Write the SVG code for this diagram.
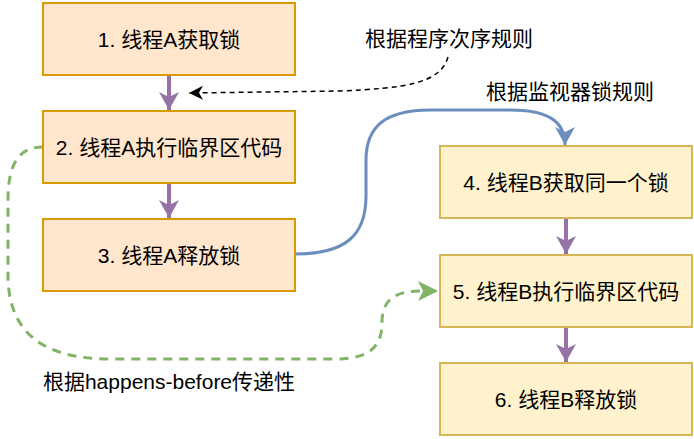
<svg xmlns="http://www.w3.org/2000/svg" width="694" height="439" viewBox="0 0 694 439">
<style>
  text { font-family: "Liberation Sans", "Noto Sans CJK SC", sans-serif; font-size: 21px; fill: #000; text-anchor: middle; dominant-baseline: central; }
  .a rect { fill: #ffe6cc; stroke: #d79b00; stroke-width: 2; }
  .b rect { fill: #fff2cc; stroke: #d6b656; stroke-width: 2; }
  .purple { stroke: #9673a6; stroke-width: 4; fill: none; marker-end: url(#mp); }
  .blue { stroke: #6c8ebf; stroke-width: 3; fill: none; marker-end: url(#mb); }
  .green { stroke: #82b366; stroke-width: 3; fill: none; stroke-dasharray: 9 7; marker-end: url(#mg); }
  .black { stroke: #000; stroke-width: 1.5; fill: none; stroke-dasharray: 5 4; marker-end: url(#mk); }
</style>
<defs>
  <marker id="mp" markerUnits="userSpaceOnUse" markerWidth="22" markerHeight="22" refX="18" refY="10" orient="auto">
    <path d="M0,0 L18,10 L0,20 L5,10 Z" fill="#9673a6"/>
  </marker>
  <marker id="mb" markerUnits="userSpaceOnUse" markerWidth="22" markerHeight="22" refX="18" refY="10" orient="auto">
    <path d="M0,0 L18,10 L0,20 L5,10 Z" fill="#6c8ebf"/>
  </marker>
  <marker id="mg" markerUnits="userSpaceOnUse" markerWidth="24" markerHeight="24" refX="20" refY="10" orient="auto">
    <path d="M0,0 L20,10 L0,20 L5,10 Z" fill="#82b366"/>
  </marker>
  <marker id="mk" markerUnits="userSpaceOnUse" markerWidth="16" markerHeight="16" refX="14" refY="7" orient="auto">
    <path d="M0,0 L14,7 L0,14 L4,7 Z" fill="#000"/>
  </marker>
</defs>
<g id="connectors">
  <path class="purple" d="M169,75 L169,110"/>
  <path class="purple" d="M169,183 L169,218"/>
  <path class="purple" d="M566,218 L566,254"/>
  <path class="purple" d="M566,327 L566,362"/>
  <path class="blue" d="M295,254 C345,254 366,236 366,196 L366,160 C366,126 386,110 430,110 L510,110 C546,110 565,120 565,145"/>
  <path class="green" d="M43,147 C20,147 8,162 8,200 L8,275 C8,330 40,359 110,359 L335,359 C372,359 382,345 382,322 C382,300 395,291 420,291 L438,291"/>
  <path class="black" d="M448,57 C440,84 405,88 340,91 L189,93"/>
</g>
<g id="n1" class="a"><rect x="43" y="3" width="252" height="72"/><text x="169" y="39">1. 线程A获取锁</text></g>
<g id="n2" class="a"><rect x="43" y="111" width="252" height="72"/><text x="169" y="147">2. 线程A执行临界区代码</text></g>
<g id="n3" class="a"><rect x="43" y="219" width="252" height="72"/><text x="169" y="255">3. 线程A释放锁</text></g>
<g id="n4" class="b"><rect x="440" y="146" width="252" height="72"/><text x="566" y="182">4. 线程B获取同一个锁</text></g>
<g id="n5" class="b"><rect x="440" y="255" width="252" height="72"/><text x="566" y="291">5. 线程B执行临界区代码</text></g>
<g id="n6" class="b"><rect x="440" y="363" width="252" height="72"/><text x="566" y="399">6. 线程B释放锁</text></g>
<g id="labels">
  <text x="449" y="38">根据程序次序规则</text>
  <text x="570" y="91">根据监视器锁规则</text>
  <text x="169" y="381">根据happens-before传递性</text>
</g>
</svg>
